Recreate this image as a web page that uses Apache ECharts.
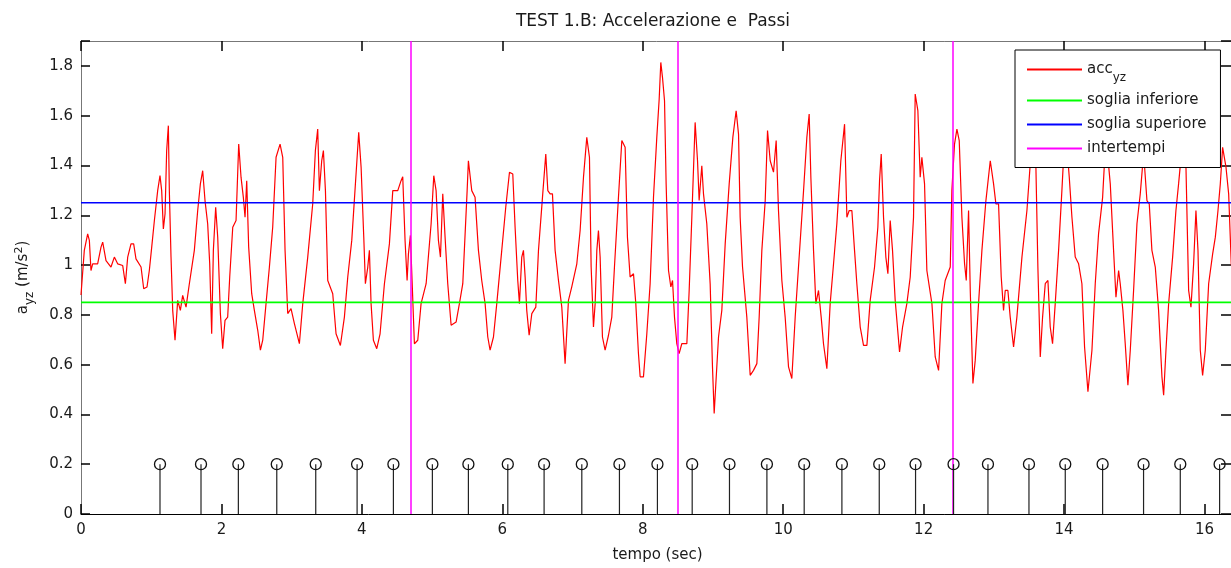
<!DOCTYPE html>
<html>
<head>
<meta charset="utf-8">
<title>TEST 1.B: Accelerazione e Passi</title>
<script src="https://cdn.jsdelivr.net/npm/echarts@6/dist/echarts.min.js"></script>
<style>
  html, body { margin: 0; padding: 0; background: #fff; }
  #chart { width: 1231px; height: 568px; }
</style>
</head>
<body>
<div id="chart"></div>
<script>
// Accelerazione sul piano yz (m/s^2) nel tempo (s)
const accTime = [
  0.000, 0.047, 0.095, 0.119, 0.142, 0.166, 0.237, 0.285, 0.309, 0.356, 0.427, 0.475, 0.522, 0.594, 0.632, 0.665,
  0.712, 0.750, 0.783, 0.855, 0.893, 0.940, 0.973, 1.007, 1.045, 1.092, 1.125, 1.149, 1.173, 1.197, 1.220, 1.244,
  1.258, 1.282, 1.306, 1.339, 1.377, 1.415, 1.448, 1.496, 1.543, 1.614, 1.662, 1.700, 1.733, 1.766, 1.804, 1.833,
  1.861, 1.885, 1.918, 1.947, 1.985, 2.018, 2.051, 2.089, 2.118, 2.161, 2.208, 2.246, 2.279, 2.312, 2.336, 2.360,
  2.388, 2.431, 2.469, 2.517, 2.555, 2.588, 2.635, 2.683, 2.730, 2.778, 2.835, 2.873, 2.906, 2.944, 2.991, 3.039,
  3.110, 3.158, 3.229, 3.300, 3.338, 3.371, 3.395, 3.428, 3.452, 3.481, 3.514, 3.585, 3.632, 3.694, 3.751, 3.799,
  3.856, 3.917, 3.955, 3.989, 4.027, 4.050, 4.084, 4.107, 4.131, 4.164, 4.212, 4.259, 4.321, 4.392, 4.440, 4.511,
  4.558, 4.582, 4.615, 4.644, 4.663, 4.691, 4.715, 4.748, 4.796, 4.843, 4.915, 4.986, 5.024, 5.057, 5.090, 5.119,
  5.152, 5.185, 5.223, 5.271, 5.342, 5.389, 5.437, 5.499,
  5.517, 5.565, 5.612, 5.660, 5.707, 5.755, 5.793, 5.826, 5.874, 5.921, 5.992, 6.049, 6.102, 6.149, 6.182, 6.220,
  6.244, 6.277, 6.301, 6.325, 6.348, 6.382, 6.420, 6.477, 6.515, 6.572, 6.619, 6.648, 6.681, 6.714, 6.752, 6.800,
  6.847, 6.894, 6.942, 6.989, 7.061, 7.108, 7.156, 7.203, 7.241, 7.265, 7.298, 7.322, 7.346, 7.369, 7.393, 7.426,
  7.464, 7.512, 7.559, 7.597, 7.654, 7.702, 7.749, 7.782, 7.820, 7.868, 7.901, 7.939, 7.963, 8.010, 8.058, 8.105,
  8.153, 8.200, 8.234, 8.257, 8.281, 8.310, 8.333, 8.367, 8.400, 8.424, 8.452, 8.485, 8.518, 8.556, 8.628, 8.661,
  8.699, 8.732, 8.746, 8.780, 8.803, 8.841, 8.865, 8.912, 8.960, 8.993, 9.017, 9.041, 9.079, 9.126, 9.174, 9.231,
  9.283, 9.330, 9.364, 9.387, 9.421, 9.482, 9.530, 9.577, 9.625, 9.658, 9.696, 9.744, 9.777, 9.815, 9.862, 9.900,
  9.933, 9.981, 10.028, 10.076, 10.123, 10.171, 10.218, 10.290, 10.337, 10.370, 10.394, 10.432, 10.465, 10.503,
  10.541, 10.574, 10.622, 10.669, 10.717, 10.764, 10.821, 10.874,
  10.907, 10.940, 10.978, 11.016, 11.049, 11.097, 11.144, 11.192, 11.239, 11.301, 11.348, 11.372, 11.396, 11.429,
  11.462, 11.491, 11.524, 11.557, 11.595, 11.657, 11.700, 11.761, 11.809, 11.856, 11.880, 11.918, 11.951, 11.975,
  12.013, 12.046, 12.118, 12.165, 12.213, 12.260, 12.307, 12.379, 12.402, 12.440, 12.474, 12.507, 12.545, 12.583,
  12.607, 12.640, 12.664, 12.702, 12.735, 12.782, 12.830, 12.887, 12.949, 12.996, 13.029, 13.067, 13.105, 13.138,
  13.162, 13.200, 13.233, 13.281, 13.328, 13.400, 13.471, 13.542, 13.599, 13.627, 13.661, 13.694, 13.732, 13.770,
  13.803, 13.836, 13.874, 13.922, 13.969, 14.017, 14.074, 14.112, 14.159, 14.207, 14.254, 14.292, 14.340, 14.397,
  14.444, 14.491, 14.549, 14.596, 14.658, 14.705, 14.739, 14.777, 14.800, 14.838, 14.871, 14.909, 14.943, 14.990,
  15.038, 15.085, 15.133, 15.180, 15.213, 15.251, 15.299, 15.346, 15.394, 15.418, 15.451, 15.489, 15.546, 15.593,
  15.631, 15.688, 15.736, 15.774, 15.807, 15.845, 15.878, 15.907, 15.940, 15.973, 16.011, 16.059, 16.116, 16.154,
  16.192, 16.225, 16.258, 16.306, 16.344, 16.382
];
const accValue = [
  0.880, 1.059, 1.125, 1.099, 0.978, 1.005, 1.005, 1.072, 1.092, 1.018, 0.992, 1.032, 1.005, 0.998, 0.925, 1.032,
  1.085, 1.085, 1.025, 0.992, 0.905, 0.912, 0.978, 1.072, 1.179, 1.299, 1.359, 1.299, 1.145, 1.206, 1.460, 1.560,
  1.299, 1.032, 0.818, 0.698, 0.858, 0.818, 0.878, 0.831, 0.925, 1.059, 1.219, 1.326, 1.379, 1.259, 1.166, 1.005,
  0.724, 1.059, 1.232, 1.112, 0.805, 0.664, 0.778, 0.791, 0.952, 1.152, 1.179, 1.486, 1.353, 1.272, 1.192, 1.339,
  1.072, 0.885, 0.818, 0.738, 0.658, 0.698, 0.845, 0.992, 1.152, 1.433, 1.486, 1.433, 1.059, 0.805, 0.825, 0.765,
  0.684, 0.845, 1.032, 1.246, 1.460, 1.546, 1.299, 1.419, 1.460, 1.299, 0.938, 0.885, 0.724, 0.677, 0.791, 0.952,
  1.099, 1.366, 1.533, 1.393, 1.112, 0.925, 0.992, 1.059, 0.845, 0.698, 0.664, 0.724, 0.925, 1.085, 1.299, 1.299,
  1.339, 1.355, 1.099, 0.938, 1.045, 1.119, 0.938, 0.684, 0.698, 0.845, 0.925, 1.166, 1.359, 1.299, 1.099, 1.032,
  1.286, 1.112, 0.925, 0.758, 0.771, 0.845, 0.925, 1.299,
  1.419, 1.299, 1.272, 1.059, 0.938, 0.845, 0.711, 0.658, 0.711, 0.845, 1.059, 1.232, 1.373, 1.366, 1.152, 0.938,
  0.845, 1.032, 1.059, 0.952, 0.818, 0.718, 0.805, 0.831, 1.059, 1.272, 1.446, 1.299, 1.286, 1.286, 1.059, 0.938,
  0.831, 0.604, 0.858, 0.912, 1.005, 1.139, 1.353, 1.513, 1.433, 0.992, 0.751, 0.845, 1.059, 1.139, 1.032, 0.711,
  0.658, 0.718, 0.791, 0.992, 1.272, 1.500, 1.473, 1.112, 0.952, 0.965, 0.845, 0.644, 0.551, 0.551, 0.724, 0.925,
  1.272, 1.513, 1.667, 1.814, 1.754, 1.660, 1.326, 0.978, 0.912, 0.938, 0.791, 0.684, 0.644, 0.684, 0.684, 0.898,
  1.192, 1.460, 1.573, 1.419, 1.259, 1.399, 1.286, 1.166, 0.925, 0.591, 0.404, 0.524, 0.711, 0.818, 1.085, 1.326,
  1.513, 1.620, 1.526, 1.192, 0.992, 0.791, 0.557, 0.577, 0.604, 0.791, 1.059, 1.259, 1.540, 1.419, 1.373, 1.500,
  1.219, 0.938, 0.791, 0.591, 0.544, 0.791, 0.992, 1.299, 1.513, 1.607, 1.353, 1.059, 0.845, 0.898,
  0.791, 0.684, 0.584, 0.845, 1.005, 1.166, 1.419, 1.566,
  1.192, 1.219, 1.219, 1.059, 0.925, 0.751, 0.677, 0.677, 0.858, 0.992, 1.152, 1.339, 1.446, 1.192,
  1.032, 0.965, 1.179, 1.059, 0.858, 0.651, 0.751, 0.845, 0.952, 1.192, 1.687, 1.620, 1.353, 1.433,
  1.326, 0.978, 0.845, 0.631, 0.577, 0.845, 0.938, 0.992, 1.299, 1.486, 1.546, 1.500, 1.192, 1.005,
  0.938, 1.219, 0.898, 0.524, 0.618, 0.845, 1.059, 1.259, 1.419, 1.326, 1.246, 1.246, 0.952, 0.818,
  0.898, 0.898, 0.791, 0.671, 0.791, 1.032, 1.219, 1.500, 1.393, 0.992, 0.631, 0.791, 0.925, 0.938,
  0.751, 0.684, 0.845, 1.059, 1.299, 1.560, 1.353, 1.192, 1.032, 1.005, 0.925, 0.671, 0.491, 0.658,
  0.925, 1.125, 1.272, 1.520, 1.326, 1.059, 0.871, 0.978, 0.925, 0.818, 0.684, 0.517, 0.658, 0.898,
  1.166, 1.286, 1.450, 1.259, 1.246, 1.059, 0.992, 0.818, 0.551, 0.477, 0.658, 0.845, 1.032, 1.219,
  1.326, 1.500, 1.393, 0.898, 0.831, 1.005, 1.219, 1.059, 0.658, 0.557, 0.658, 0.925, 1.045, 1.112,
  1.219, 1.326, 1.473, 1.393, 1.286, 0.998
];

// Soglie di rilevamento dei passi
const sogliaInferiore = 0.85;
const sogliaSuperiore = 1.25;

// Intertempi (s)
const intertempi = [4.687, 8.504, 12.422];

// Istanti dei passi rilevati (s) e altezza del marcatore
const passiTime = [
  1.125, 1.709, 2.241, 2.788, 3.343, 3.932, 4.449, 5.004, 5.517, 6.078, 6.595, 7.132, 7.668, 8.209, 8.704,
  9.235, 9.768, 10.299, 10.836, 11.368, 11.885, 12.426, 12.916, 13.500, 14.017, 14.549, 15.132, 15.655, 16.215
];
const passiLevel = 0.2;

// Assi
const X_MIN = 0, X_MAX = 16.42, X_STEP = 2;
const Y_MIN = 0, Y_MAX = 1.9, Y_STEP = 0.2;

const FONT = 'DejaVu Sans';
const TXT = '#1a1a1a';

const accData = accTime.map((t, i) => [t, accValue[i]]);
const passiData = passiTime.map(t => [t, passiLevel]);

const chart = echarts.init(document.getElementById('chart'), null, { renderer: 'canvas' });

const xLabel = v => (Math.abs(v / X_STEP - Math.round(v / X_STEP)) < 1e-6 ? String(Math.round(v)) : '');
const yLabel = v => {
  const k = Math.round(v * 10);
  return (Math.abs(v * 10 - k) < 1e-6 && k % 2 === 0) ? String(k / 10) : '';
};

// pedici / apici
const richText = {
  a: { fontFamily: FONT, fontSize: 15, color: TXT, lineHeight: 19, verticalAlign: 'middle' },
  s: { fontFamily: FONT, fontSize: 12, color: TXT, lineHeight: 14, padding: [9.5, 0, 0, 0], verticalAlign: 'top' },
  p: { fontFamily: FONT, fontSize: 11, color: TXT, lineHeight: 13, padding: [0, 0, 0, 0], verticalAlign: 'top' }
};
const legendRich = {
  a: { fontFamily: FONT, fontSize: 15, color: TXT, lineHeight: 33, verticalAlign: 'middle' },
  s: { fontFamily: FONT, fontSize: 12, color: TXT, lineHeight: 14, padding: [18.5, 0, 0, 0], verticalAlign: 'top' }
};

const tickStyle = { color: '#000000', width: 1.5 };

chart.setOption({
  animation: false,
  backgroundColor: '#ffffff',
  title: {
    text: 'TEST 1.B: Accelerazione e  Passi',
    left: 648,
    top: 8,
    textAlign: 'center',
    textStyle: { fontFamily: FONT, fontSize: 17, fontWeight: 'normal', color: TXT }
  },
  // il riquadro prosegue oltre il bordo destro della finestra
  grid: { left: 81, top: 41, width: 1153, bottom: 54, containLabel: false, outerBoundsMode: 'none' },
  legend: {
    orient: 'vertical',
    left: 1015,
    top: 50,
    data: ['acc', 'soglia inferiore', 'soglia superiore', 'intertempi'],
    icon: 'rect',
    itemWidth: 55,
    itemHeight: 2,
    itemGap: 5,
    padding: [3, 14, 9.5, 12],
    backgroundColor: '#ffffff',
    borderColor: '#000000',
    borderWidth: 1,
    borderRadius: 0,
    selectedMode: false,
    formatter: name => name === 'acc' ? '{a|acc}{s|yz}' : name,
    textStyle: { fontFamily: FONT, fontSize: 15, color: TXT, lineHeight: 19, rich: legendRich }
  },
  xAxis: [
    {
      type: 'value', min: X_MIN, max: X_MAX, interval: X_STEP, position: 'bottom',
      name: 'tempo (sec)', nameLocation: 'middle', nameGap: 34,
      nameTextStyle: { fontFamily: FONT, fontSize: 15, color: TXT },
      axisLine: { show: true, onZero: false, lineStyle: { color: '#000', width: 1 } },
      axisTick: { show: true, inside: true, length: 10, lineStyle: tickStyle },
      axisLabel: { show: true, fontFamily: FONT, fontSize: 15, color: TXT, margin: 9, formatter: xLabel },
      splitLine: { show: false }
    },
    {
      type: 'value', min: X_MIN, max: X_MAX, interval: X_STEP, position: 'top',
      axisLine: { show: true, onZero: false, lineStyle: { color: '#777', width: 1 } },
      axisTick: { show: true, inside: true, length: 10, lineStyle: tickStyle },
      axisLabel: { show: false },
      splitLine: { show: false }
    }
  ],
  yAxis: [
    {
      type: 'value', min: Y_MIN, max: Y_MAX, interval: Y_STEP, position: 'left',
      name: '{a|a}{s|yz}{a| (m/s}{p|2}{a|)}',
      nameLocation: 'middle', nameRotate: 90, nameGap: 48,
      nameTextStyle: { fontFamily: FONT, fontSize: 15, color: TXT, lineHeight: 19, rich: richText },
      axisLine: { show: true, onZero: false, lineStyle: { color: '#777', width: 1 } },
      axisTick: { show: true, inside: true, length: 9, lineStyle: tickStyle },
      axisLabel: { show: true, fontFamily: FONT, fontSize: 15, color: TXT, margin: 8, formatter: yLabel },
      splitLine: { show: false }
    },
    {
      type: 'value', min: Y_MIN, max: Y_MAX, interval: Y_STEP, position: 'right',
      axisLine: { show: true, onZero: false, lineStyle: { color: '#777', width: 1 } },
      axisTick: { show: true, inside: true, length: 13, lineStyle: tickStyle },
      axisLabel: { show: false },
      splitLine: { show: false }
    }
  ],
  series: [
    {
      name: 'acc',
      type: 'line',
      data: accData,
      symbol: 'none',
      showSymbol: false,
      color: '#ff0000',
      lineStyle: { color: '#ff0000', width: 1.2 },
      silent: true,
      z: 2
    },
    {
      name: 'soglia inferiore',
      type: 'line',
      data: [[X_MIN, sogliaInferiore], [X_MAX, sogliaInferiore]],
      symbol: 'none',
      color: '#00ff00',
      lineStyle: { color: '#00ff00', width: 1.6 },
      silent: true,
      z: 3
    },
    {
      name: 'soglia superiore',
      type: 'line',
      data: [[X_MIN, sogliaSuperiore], [X_MAX, sogliaSuperiore]],
      symbol: 'none',
      color: '#0000ff',
      lineStyle: { color: '#0000ff', width: 1.6 },
      silent: true,
      z: 3
    },
    {
      name: 'intertempi',
      type: 'line',
      data: [],
      symbol: 'none',
      color: '#ff00ff',
      lineStyle: { color: '#ff00ff', width: 1.5 },
      silent: true,
      z: 4,
      markLine: {
        silent: true,
        symbol: ['none', 'none'],
        label: { show: false },
        lineStyle: { color: '#ff00ff', width: 1.5, type: 'solid' },
        emphasis: { disabled: true },
        data: intertempi.map(t => ({ xAxis: t }))
      }
    },
    {
      name: 'passi',
      type: 'custom',
      data: passiData,
      silent: true,
      z: 5,
      clip: true,
      renderItem: (params, api) => {
        const base = api.coord([api.value(0), 0]);
        const top = api.coord([api.value(0), api.value(1)]);
        return {
          type: 'group',
          children: [
            { type: 'line', shape: { x1: base[0], y1: base[1], x2: top[0], y2: top[1] },
              style: { stroke: '#222', lineWidth: 1.2 } },
            { type: 'circle', shape: { cx: top[0], cy: top[1], r: 5.5 },
              style: { stroke: '#111', fill: 'rgba(255,255,255,0)', lineWidth: 1.3 } }
          ]
        };
      }
    }
  ]
});
</script>
</body>
</html>
